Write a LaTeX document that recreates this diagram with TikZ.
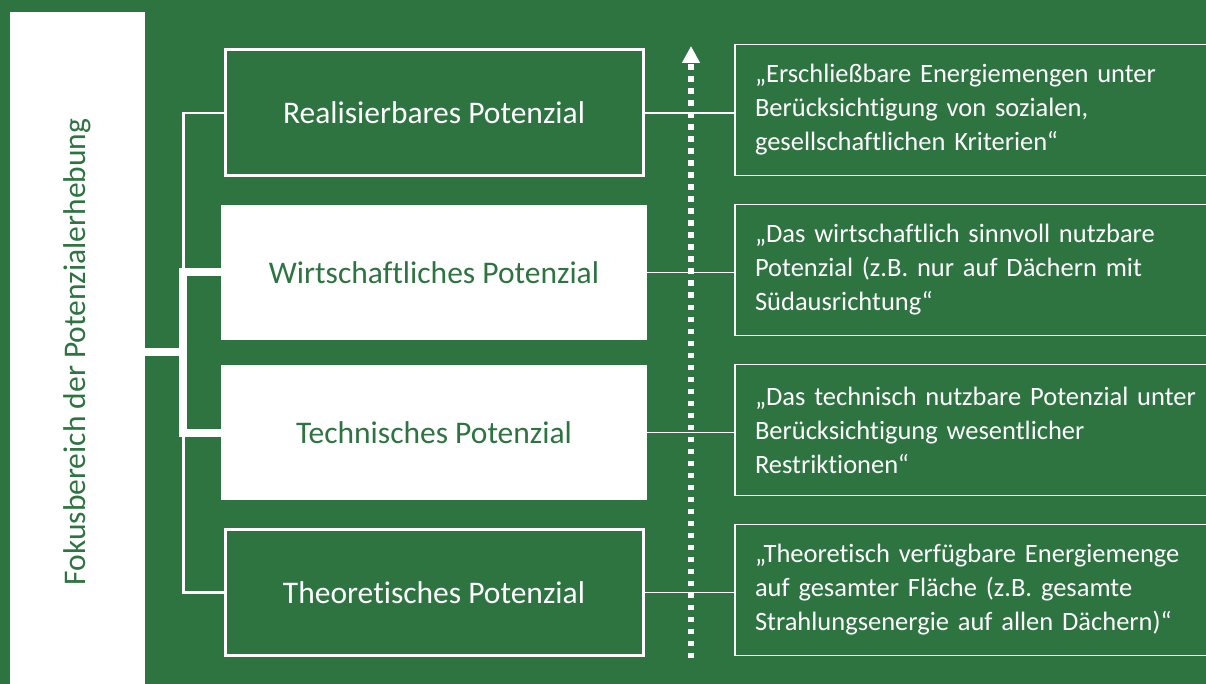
\documentclass[tikz,border=0pt]{standalone}
\usepackage{fontspec}
\setmainfont{Carlito}[Ligatures=NoCommon]
\usepackage{tikz}
\usetikzlibrary{arrows.meta,positioning}
\definecolor{potgreen}{RGB}{46,116,65}

\begin{document}
\begin{tikzpicture}[
  x=1pt,y=-1pt,
  bar/.style={fill=white,minimum width=135.5pt,minimum height=680pt,inner sep=0pt,text=potgreen,font=\fontsize{31.5}{36}\selectfont},
  level/.style={draw=white,line width=3pt,minimum width=418pt,minimum height=126pt,text=white,font=\fontsize{31.5}{36}\selectfont},
  focuslevel/.style={fill=white,minimum width=426pt,minimum height=135pt,text=potgreen,font=\fontsize{31.5}{36}\selectfont},
  quote/.style={draw=white,line width=1.6pt,minimum width=505pt,minimum height=131pt,text width=465pt,inner xsep=20pt,align=left,text=white,font=\fontsize{26.5}{34}\selectfont},
  thinlink/.style={white,line width=2.5pt},
  thicklink/.style={white,line width=8pt},
  link/.style={white,line width=1.3pt}
]
\useasboundingbox (0,0) rectangle (1206,684);
\clip (0,0) rectangle (1206,684);
\fill[potgreen] (0,0) rectangle (1206,684);

\node[bar] (focus) at (77.25,352) {\rotatebox{90}{Fokusbereich der Potenzialerhebung}};

\node[level] (real) at (434,113) {Realisierbares Potenzial};
\node[focuslevel] (wirt) at (434,272.5) {Wirtschaftliches Potenzial};
\node[focuslevel] (tech) at (434,432.5) {Technisches Potenzial};
\node[level] (theo) at (434,592.5) {Theoretisches Potenzial};

\node[quote] (qreal) at (987.5,110) {„Erschließbare Energiemengen unter\\Berücksichtigung von sozialen,\\gesellschaftlichen Kriterien“};
\node[quote] (qwirt) at (987.5,270) {„Das wirtschaftlich sinnvoll nutzbare\\Potenzial (z.B. nur auf Dächern mit\\Südausrichtung“};
\node[quote] (qtech) at (987.5,430) {„Das technisch nutzbare Potenzial unter\\Berücksichtigung wesentlicher\\Restriktionen“};
\node[quote] (qtheo) at (987.5,590) {„Theoretisch verfügbare Energiemenge\\auf gesamter Fläche (z.B. gesamte\\Strahlungsenergie auf allen Dächern)“};

% bracket
\coordinate (joint) at (183.3,352);
\draw[thinlink] (real.west) -| (joint) |- (theo.west);
\draw[thicklink] (wirt.west) -| (joint) |- (tech.west);
\draw[thicklink] (focus.east |- joint) -- (joint);

\draw[link] (real.east) -- (qreal.west |- real.east);
\draw[link] (wirt.east) -- (qwirt.west |- wirt.east);
\draw[link] (tech.east) -- (qtech.west |- tech.east);
\draw[link] (theo.east) -- (qtheo.west |- theo.east);

% rising arrow
\coordinate (rise0) at (691,658);
\coordinate (rise1) at (691,46);
\draw[white,line width=5.5pt,dash pattern=on 5.5pt off 6.5pt,-{Triangle[length=17pt,width=17pt]}] (rise0) -- (rise1);
\end{tikzpicture}
\end{document}
